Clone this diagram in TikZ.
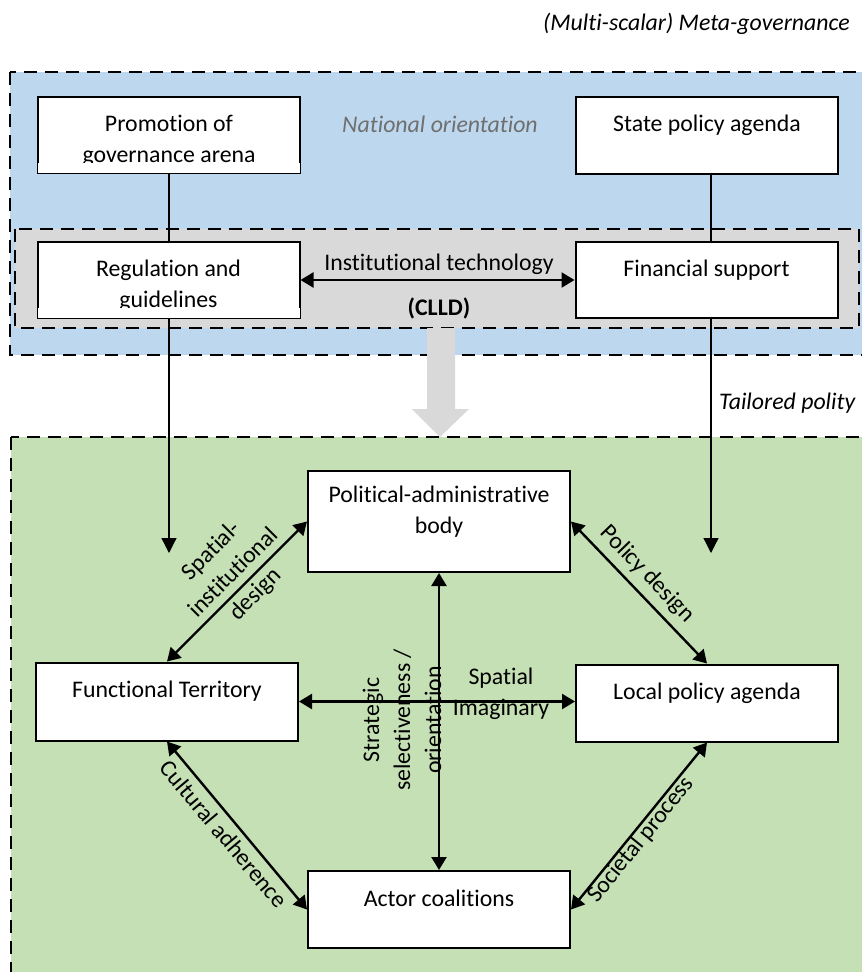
\documentclass[tikz,border=0pt]{standalone}
\usepackage{fontspec}
\setmainfont{Carlito}[Ligatures={NoCommon}]
\usetikzlibrary{arrows.meta,backgrounds}
\definecolor{bluebg}{HTML}{BDD7EE}
\definecolor{greenbg}{HTML}{C5E0B4}
\definecolor{graybg}{HTML}{D9D9D9}
\definecolor{grayarrow}{HTML}{D9D9D9}
\definecolor{labelgray}{HTML}{6F6F6F}
\begin{document}
\begin{tikzpicture}[x=1pt,y=-1pt,
  font=\fontsize{23.8pt}{31pt}\selectfont,
  region/.style={draw=black, line width=2.6pt, dash pattern=on 13pt off 8pt},
  box/.style={draw=black, line width=2pt, fill=white, minimum width=262pt, inner sep=0pt},
  boxtext/.style={anchor=base, inner sep=0pt},
  conn/.style={line width=2.4pt, {Triangle[length=13pt,width=15pt]}-{Triangle[length=13pt,width=15pt]}},
  feed/.style={line width=1.2pt, -{Triangle[length=15pt,width=15pt]}},
  lbl/.style={inner sep=0pt, align=center},
  ital/.style={font=\fontsize{23.8pt}{31pt}\selectfont\itshape},
]
\useasboundingbox (0,0) rectangle (862,972);

% regions and block arrow (background layer)
\begin{scope}[on background layer]
\filldraw[region, fill=bluebg] (10,72) rectangle (885,355);
\filldraw[region, fill=graybg] (15,229) rectangle (859,328);
\filldraw[region, fill=greenbg] (11,437) rectangle (885,995);
\fill[grayarrow] (427,328) -- (455,328) -- (455,409) -- (469,409) -- (440,437) -- (412,409) -- (427,409) -- cycle;
\end{scope}

% free-text labels
\node[ital, anchor=base east, inner sep=0pt] (title) at (850,30) {(Multi-scalar) Meta-governance};
\node[ital, anchor=base, inner sep=0pt, text=labelgray] (natl) at (440,132) {National orientation};
\node[ital, anchor=base west, inner sep=0pt] (tail) at (719,409) {Tailored polity};

% boxes
\node[box, minimum height=76pt] (prom) at (169,135) {};
\node[box, minimum height=77pt] (state) at (707,135.5) {};
\node[box, minimum height=76pt] (reg) at (168.5,280) {};
\node[box, minimum height=76pt] (fin) at (706.5,280) {};
\node[box, minimum height=101pt] (pol) at (439,521.5) {};
\node[box, minimum height=78pt] (func) at (167,701.5) {};
\node[box, minimum height=77pt] (local) at (707,703) {};
\node[box, minimum height=77pt] (actor) at (439,909.5) {};

\coordinate (tipL) at (169,553);
\coordinate (tipR) at (711,553);

% feed lines, behind the boxes
\begin{scope}[on background layer]
\draw[feed] (prom.south) -- (tipL);
\draw[feed] (state.south -| tipR) -- (tipR);
\end{scope}

% box texts
\node[boxtext] (promt) at ([yshift=-35pt]prom.north) {\begin{tabular}[t]{@{}c@{}}Promotion of\\governance arena\end{tabular}};
\node[boxtext] (statet) at ([yshift=-35pt]state.north) {State policy agenda};
\node[boxtext] (regt) at ([yshift=-35pt]reg.north) {\begin{tabular}[t]{@{}c@{}}Regulation and\\guidelines\end{tabular}};
\node[boxtext] (fint) at ([yshift=-35pt]fin.north) {Financial support};
\node[boxtext] (polt) at ([yshift=-32pt]pol.north) {\begin{tabular}[t]{@{}c@{}}Political-administrative\\body\end{tabular}};
\node[boxtext] (funct) at ([yshift=-36pt]func.north) {Functional Territory};
\node[boxtext] (localt) at ([yshift=-36pt]local.north) {Local policy agenda};
\node[boxtext] (actort) at ([yshift=-36pt]actor.north) {Actor coalitions};

% clipped lower lines of the two upper-left boxes
\fill[white] ([xshift=1pt,yshift=1pt]prom.south west) rectangle ([xshift=-1pt,yshift=11pt]prom.south east);
\fill[white] ([xshift=1pt,yshift=1pt]reg.south west) rectangle ([xshift=-1pt,yshift=11pt]reg.south east);

% connectors
\draw[conn] (reg.east) -- (fin.west);
\draw[conn] (func.north) -- (pol.west);
\draw[conn] (pol.east) -- (local.north);
\draw[conn] (func.south) -- (actor.west);
\draw[conn] (local.south) -- (actor.east);
\draw[conn] (pol.south) -- (actor.north);
\draw[conn] (func.east) -- (func.east -| local.west);

% connector labels
\node[inner sep=0pt, anchor=base] (inst) at (439,270) {Institutional technology};
\node[inner sep=0pt, anchor=base] (clld) at (439,315) {\textbf{(CLLD)}};
\node[lbl, rotate=45] (sid) at (234,573) {Spatial-\\institutional\\design};
\node[lbl, rotate=-46] (pd) at (647,574) {Policy design};
\node[lbl, rotate=-50] (ca) at (224,834) {Cultural adherence};
\node[lbl, rotate=51] (sp) at (641,840) {Societal process};
\node[lbl, rotate=90] (sso) at (402,720) {Strategic\\selectiveness /\\orientation};
\node[boxtext] (spim) at (501,684) {\begin{tabular}[t]{@{}c@{}}Spatial\\Imaginary\end{tabular}};
\end{tikzpicture}
\end{document}
